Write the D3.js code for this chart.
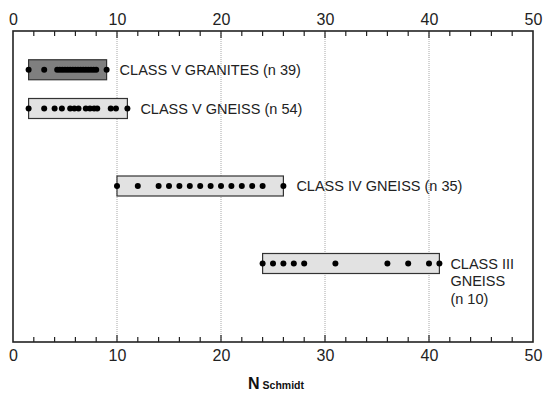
<!DOCTYPE html>
<html>
<head>
<meta charset="utf-8">
<script src="https://cdn.jsdelivr.net/npm/d3@7"></script>
<style>
  html, body { margin: 0; padding: 0; background: #fff; }
  svg { display: block; font-family: "Liberation Sans", Arial, Helvetica, sans-serif; }
</style>
</head>
<body>
<svg id="chart" width="543" height="397"></svg>
<script>
// Rock mass classes and their Schmidt hammer rebound values
const categories = ["CLASS V GRANITES", "CLASS V GNEISS", "CLASS IV GNEISS", "CLASS III GNEISS"];
const sampleCounts = [39, 54, 35, 10];
const granitesV = [1.5, 3, 4.25, 4.5, 4.75, 5, 5.25, 5.5, 5.75, 6, 6.25, 6.5, 6.75, 7, 7.25, 7.5, 7.75, 8, 9];
const gneissV = [1.5, 3, 4, 4.7, 5.5, 5.9, 6.3, 7, 7.4, 7.8, 8.1, 9.4, 9.9, 11];
const gneissIV = [10, 12, 14, 15, 16, 17, 18, 19, 20, 21, 22, 23, 24, 26];
const gneissIII = [24, 25, 26, 27, 28, 31, 36, 38, 40, 41];
const seriesValues = [granitesV, gneissV, gneissIV, gneissIII];
const xTicks = [0, 10, 20, 30, 40, 50];

(function () {
const svg = d3.select("#chart");
const mLeft = 13, mRight = 533, mTop = 31, mBottom = 342;

const x = d3.scaleLinear().domain([0, 50]).range([mLeft, mRight]);
const yLin = d3.scaleLinear().domain([0, 8]).range([mTop, mBottom - 1]);
// rows sit in slots 1, 2, 4 and 6 of the vertical frame
const y = d3.scaleOrdinal().domain(categories).range([1, 2, 4, 6].map(yLin));

const boxH = 20;
const fills = ["#7f7f7f", "#e2e2e2", "#e2e2e2", "#e2e2e2"];

// dotted grid lines at the major ticks
svg.append("g")
  .selectAll("line")
  .data(xTicks.filter(d => d > 0 && d < 50))
  .join("line")
  .attr("x1", d => x(d)).attr("x2", d => x(d))
  .attr("y1", mTop).attr("y2", mBottom)
  .attr("stroke", "#a8a8a8")
  .attr("stroke-width", 1)
  .attr("stroke-dasharray", "1,1");

// axes: ticks point inward, labels outside
const axTop = d3.axisTop(x).tickValues(xTicks).tickSize(0).tickPadding(6);
const axBottom = d3.axisBottom(x).tickValues(xTicks).tickSize(0).tickPadding(8);

const gTop = svg.append("g").attr("transform", `translate(0,${mTop})`).call(axTop);
const gBot = svg.append("g").attr("transform", `translate(0,${mBottom})`).call(axBottom);
[gTop, gBot].forEach(g => {
  g.select(".domain").remove();
  g.selectAll("text").attr("font-size", 16).attr("fill", "#222")
    .attr("font-family", "'Liberation Sans', Arial, sans-serif");
});

const tickG = svg.append("g").attr("stroke", "#222").attr("stroke-width", 1.2);
d3.range(2, 50, 2).forEach(v => {
  const len = v % 10 === 0 ? 7 : 5;
  tickG.append("line").attr("x1", x(v)).attr("x2", x(v)).attr("y1", mTop).attr("y2", mTop + len);
  tickG.append("line").attr("x1", x(v)).attr("x2", x(v)).attr("y1", mBottom).attr("y2", mBottom - len);
});

// frame
svg.append("rect")
  .attr("x", mLeft).attr("y", mTop)
  .attr("width", mRight - mLeft).attr("height", mBottom - mTop)
  .attr("fill", "none").attr("stroke", "#222").attr("stroke-width", 1.6);

// range boxes and sample dots
const rows = categories.map((c, i) => ({
  cat: c, n: sampleCounts[i], vals: seriesValues[i], fill: fills[i]
}));

const rowG = svg.append("g").selectAll("g").data(rows).join("g");

rowG.append("rect")
  .attr("x", d => x(d3.min(d.vals)))
  .attr("width", d => x(d3.max(d.vals)) - x(d3.min(d.vals)))
  .attr("y", d => y(d.cat) - boxH / 2)
  .attr("height", boxH)
  .attr("fill", d => d.fill)
  .attr("stroke", "#333")
  .attr("stroke-width", 1.2);

rowG.selectAll("circle")
  .data(d => d.vals.map(v => ({ v, cat: d.cat })))
  .join("circle")
  .attr("cx", d => x(d.v))
  .attr("cy", d => y(d.cat))
  .attr("r", 3)
  .attr("fill", "#000");

// row labels
rowG.each(function (d, i) {
  const g = d3.select(this);
  const x0 = x(d3.max(d.vals)) + 13;
  const cy = y(d.cat);
  const t = g.append("text")
    .attr("font-size", 14.5)
    .attr("fill", "#222");
  if (i === 3) {
    const lines = ["CLASS III", "GNEISS", `(n ${d.n})`];
    lines.forEach((s, k) => {
      t.append("tspan").attr("x", x0 - 2).attr("y", cy + 5 + k * 17.5).text(s);
    });
  } else {
    t.attr("x", x0).attr("y", cy + 5).text(`${d.cat} (n ${d.n})`);
  }
});

// axis title
const title = svg.append("text")
  .attr("x", 248).attr("y", 389)
  .attr("fill", "#111")
  .attr("font-weight", "bold");
title.append("tspan").attr("font-size", 16).text("N");
title.append("tspan").attr("font-size", 10.5).attr("dx", 3).text("Schmidt");
})();
</script>
</body>
</html>
